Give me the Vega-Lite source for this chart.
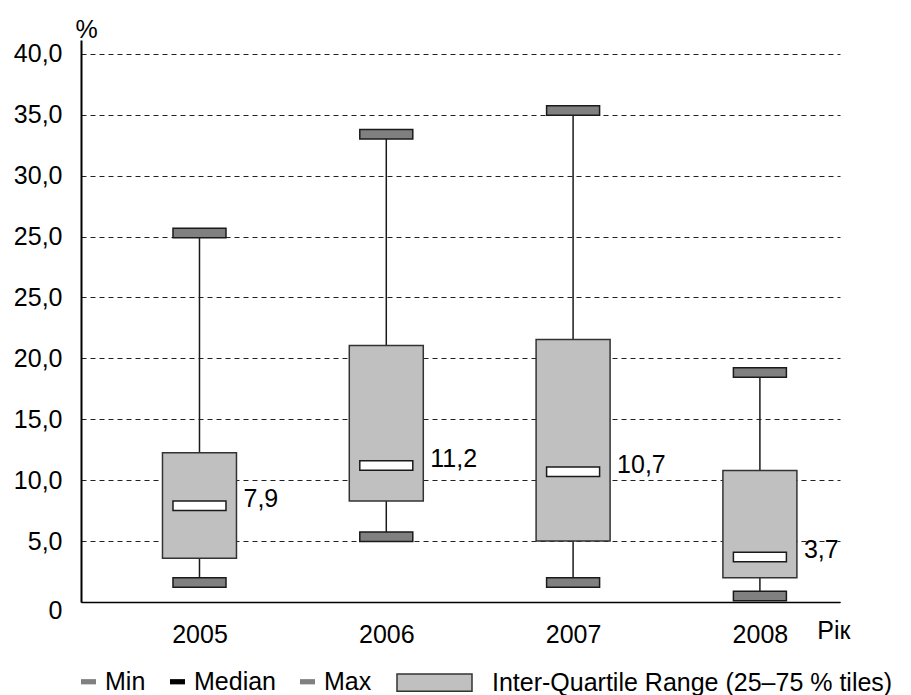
{
  "$schema": "https://vega.github.io/schema/vega-lite/v6.json",
  "width": 759,
  "height": 562,
  "autosize": {"type": "none"},
  "padding": {"left": 81, "top": 40, "right": 71, "bottom": 93},
  "background": "white",
  "config": {
    "locale": {"number": {"decimal": ",", "thousands": " ", "grouping": [3], "currency": ["", ""]}},
    "font": "Liberation Sans",
    "view": {"stroke": null},
    "axis": {
      "labelFont": "Liberation Sans",
      "labelFontSize": 25,
      "labelColor": "#000",
      "titleFont": "Liberation Sans",
      "titleFontSize": 25,
      "titleFontWeight": "normal",
      "titleColor": "#000"
    },
    "legend": {
      "labelFont": "Liberation Sans",
      "labelFontSize": 25,
      "labelColor": "#000",
      "labelLimit": 600,
      "symbolOpacity": 1
    },
    "text": {"font": "Liberation Sans"}
  },
  "data": {
    "values": [
      {"Year": 2005, "Min": 1.6, "Q1": 3.6, "Median": 7.9, "Q3": 12.25, "Max": 30.3},
      {"Year": 2006, "Min": 5.35, "Q1": 8.3, "Median": 11.2, "Q3": 21.05, "Max": 38.4},
      {"Year": 2007, "Min": 1.6, "Q1": 5.0, "Median": 10.7, "Q3": 21.55, "Max": 40.35},
      {"Year": 2008, "Min": 0.5, "Q1": 2.0, "Median": 3.7, "Q3": 10.8, "Max": 18.85}
    ]
  },
  "encoding": {
    "x": {
      "field": "Year",
      "type": "quantitative",
      "scale": {"domain": [2004.3925, 2008.402], "nice": false, "zero": false},
      "axis": {
        "values": [2005, 2006, 2007, 2008],
        "format": "d",
        "grid": false,
        "ticks": false,
        "domainColor": "#000",
        "domainWidth": 1.5,
        "labelPadding": 20,
        "title": "Рік",
        "titleX": 769,
        "titleY": 36,
        "titleAlign": "right",
        "titleBaseline": "alphabetic"
      }
    }
  },
  "layer": [
    {
      "mark": {"type": "rule", "color": "#1a1a1a", "strokeWidth": 1.5},
      "encoding": {
        "y": {
          "field": "Min",
          "type": "quantitative",
          "scale": {"domain": [0, 46.14], "nice": false, "zero": true},
          "axis": {
            "values": [0, 5, 10, 15, 20, 25, 30, 35, 40, 45],
            "labelExpr": "datum.value == 0 ? '0' : format(datum.value > 25 ? datum.value - 5 : datum.value, '.1f')",
            "labelOffset": {"condition": {"test": "datum.value == 0", "value": 8}, "value": 0},
            "grid": true,
            "gridDash": [5, 4],
            "gridColor": "#222",
            "gridWidth": 1,
            "ticks": false,
            "domainColor": "#000",
            "domainWidth": 2,
            "labelPadding": 19,
            "title": "%",
            "titleAngle": 0,
            "titleX": -6,
            "titleY": -3,
            "titleAlign": "left",
            "titleBaseline": "alphabetic"
          }
        },
        "y2": {"field": "Max"}
      }
    },
    {
      "mark": {"type": "bar", "width": 74, "stroke": "#333", "strokeWidth": 1.5},
      "encoding": {
        "y": {"field": "Q1", "type": "quantitative"},
        "y2": {"field": "Q3"},
        "fill": {
          "datum": "Inter-Quartile Range (25–75 % tiles)",
          "type": "nominal",
          "scale": {"range": ["#c0c0c0"]},
          "legend": {
            "orient": "none",
            "legendX": 315,
            "legendY": 604,
            "title": null,
            "symbolType": "M-1,-0.23L1,-0.23L1,0.23L-1,0.23Z",
            "symbolSize": 5625,
            "symbolStrokeColor": "#333",
            "symbolStrokeWidth": 1.5,
            "labelOffset": 19
          }
        }
      }
    },
    {
      "transform": [{"fold": ["Min", "Max"], "as": ["stat", "value"]}],
      "mark": {"type": "tick", "orient": "horizontal", "filled": true, "opacity": 1, "thickness": 9.5, "size": 53, "stroke": "#1a1a1a", "strokeWidth": 1.5},
      "encoding": {
        "y": {"field": "value", "type": "quantitative"},
        "color": {
          "field": "stat",
          "type": "nominal",
          "scale": {"domain": ["Min", "Median", "Max"], "range": ["#808080", "#000000", "#808080"]},
          "legend": {
            "orient": "none",
            "legendX": -5,
            "legendY": 629,
            "direction": "horizontal",
            "title": null,
            "symbolType": "M-1,-0.35L1,-0.35L1,0.35L-1,0.35Z",
            "symbolSize": 225,
            "symbolStrokeWidth": 0,
            "labelOffset": 4,
            "columnPadding": 19
          }
        }
      }
    },
    {
      "mark": {"type": "tick", "orient": "horizontal", "filled": true, "opacity": 1, "thickness": 9.5, "size": 53, "fill": "#ffffff", "stroke": "#1a1a1a", "strokeWidth": 1.5},
      "encoding": {
        "y": {"field": "Median", "type": "quantitative"}
      }
    },
    {
      "mark": {"type": "text", "align": "left", "baseline": "middle", "dx": 44, "dy": -7, "fontSize": 25, "color": "#000"},
      "encoding": {
        "y": {"field": "Median", "type": "quantitative"},
        "text": {"field": "Median", "type": "quantitative", "format": ".1f"}
      }
    }
  ]
}
